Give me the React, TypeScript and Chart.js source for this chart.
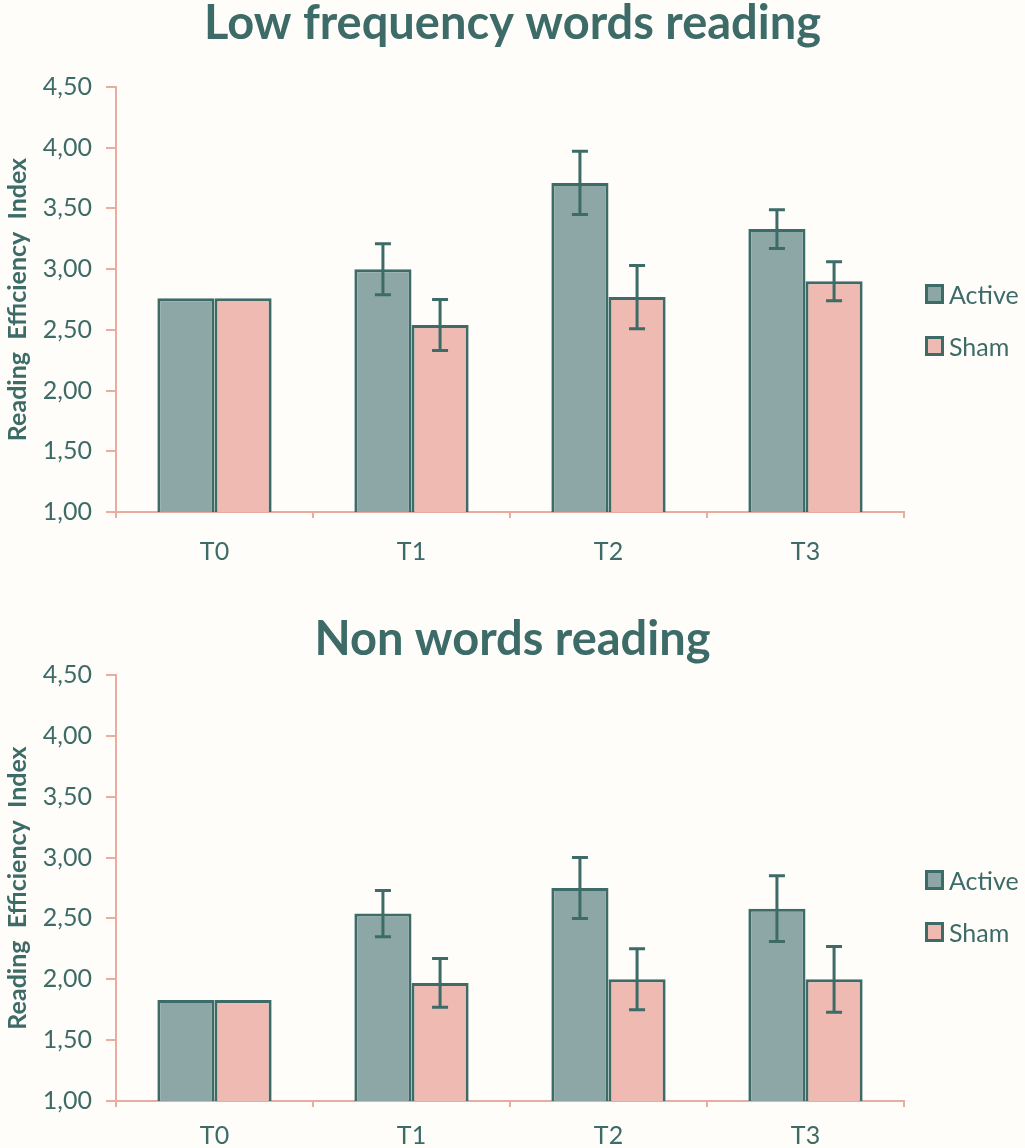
import { useEffect, useRef } from "react";
import { Chart, registerables, ChartConfiguration, Plugin } from "chart.js";

Chart.register(...registerables);

const categories = ["T0", "T1", "T2", "T3"];
const seriesNames = ["Active", "Sham"];
const yTicks = [1, 1.5, 2, 2.5, 3, 3.5, 4, 4.5];

// Low frequency words reading
const lowFreqActive = [2.76, 3.0, 3.71, 3.33];
const lowFreqActiveErr = [0, 0.21, 0.26, 0.16];
const lowFreqSham = [2.76, 2.54, 2.77, 2.9];
const lowFreqShamErr = [0, 0.21, 0.26, 0.16];

// Non words reading
const nonWordsActive = [1.83, 2.54, 2.75, 2.58];
const nonWordsActiveErr = [0, 0.19, 0.25, 0.27];
const nonWordsSham = [1.83, 1.97, 2.0, 2.0];
const nonWordsShamErr = [0, 0.2, 0.25, 0.27];

const TEAL = "#3d6b68";
const ACTIVE_FILL = "#8ca7a5";
const SHAM_FILL = "#eebab2";
const AXIS_PINK = "#e8aca2";
const BG = "#fffdf9";
const FONT = "Lato, 'Open Sans', sans-serif";

const errorBars: Plugin<"bar"> = {
  id: "errorBars",
  afterDatasetsDraw(chart) {
    const { ctx } = chart;
    const yScale = chart.scales.y;
    chart.data.datasets.forEach((ds: any, di) => {
      const meta = chart.getDatasetMeta(di);
      const errs: number[] = ds.errors || [];
      meta.data.forEach((bar: any, i) => {
        const err = errs[i];
        if (!err) return;
        const v = ds.data[i] as number;
        const top = yScale.getPixelForValue(v + err);
        const bot = yScale.getPixelForValue(v - err);
        const x = bar.x;
        ctx.save();
        ctx.strokeStyle = TEAL;
        ctx.lineWidth = 3;
        ctx.beginPath();
        ctx.moveTo(x, top);
        ctx.lineTo(x, bot);
        ctx.moveTo(x - 8, top);
        ctx.lineTo(x + 8, top);
        ctx.moveTo(x - 8, bot);
        ctx.lineTo(x + 8, bot);
        ctx.stroke();
        ctx.restore();
      });
    });
  },
};

type PanelProps = {
  title: string;
  active: number[];
  activeErr: number[];
  sham: number[];
  shamErr: number[];
  titlePadTop: number;
  titlePadBottom: number;
  labelPad: number;
  xHeight: number;
  legendTop: number;
};

function BarPanel(props: PanelProps) {
  const canvasRef = useRef<HTMLCanvasElement | null>(null);
  const chartRef = useRef<Chart<"bar", number[], string> | null>(null);

  useEffect(() => {
    const canvas = canvasRef.current;
    if (!canvas) return;
    const ctx = canvas.getContext("2d");
    if (!ctx) return;
    if (chartRef.current) chartRef.current.destroy();

    const config: ChartConfiguration<"bar", number[], string> = {
      type: "bar",
      data: {
        labels: categories,
        datasets: [
          {
            label: seriesNames[0],
            data: props.active,
            errors: props.activeErr,
            backgroundColor: ACTIVE_FILL,
            borderColor: TEAL,
            borderWidth: 3,
            categoryPercentage: 0.58,
            barPercentage: 1,
          } as any,
          {
            label: seriesNames[1],
            data: props.sham,
            errors: props.shamErr,
            backgroundColor: SHAM_FILL,
            borderColor: TEAL,
            borderWidth: 3,
            categoryPercentage: 0.58,
            barPercentage: 1,
          } as any,
        ],
      },
      options: {
        responsive: true,
        maintainAspectRatio: false,
        animation: false,
        layout: { padding: 0 },
        scales: {
          x: {
            afterFit: (scale: any) => {
              scale.height = props.xHeight;
            },
            grid: {
              offset: true,
              drawOnChartArea: false,
              drawTicks: true,
              tickLength: 6,
              color: AXIS_PINK,
              lineWidth: 2,
            },
            border: { color: AXIS_PINK, width: 2 },
            ticks: {
              color: TEAL,
              font: { family: FONT, size: 25 },
              padding: props.labelPad,
            },
          },
          y: {
            min: 1,
            max: 4.5,
            afterBuildTicks: (scale: any) => {
              scale.ticks = yTicks.map((v) => ({ value: v }));
            },
            afterFit: (scale: any) => {
              scale.width = 116;
            },
            grid: {
              drawOnChartArea: false,
              drawTicks: true,
              tickLength: 10,
              color: AXIS_PINK,
              lineWidth: 2,
            },
            border: { color: AXIS_PINK, width: 2 },
            ticks: {
              color: TEAL,
              font: { family: FONT, size: 25 },
              padding: 14,
              callback: (value: any) => Number(value).toFixed(2).replace(".", ","),
            },
            title: {
              display: true,
              text: "Reading  Efficiency  Index",
              color: TEAL,
              font: { family: FONT, size: 25, weight: "bold", lineHeight: 1.1 },
              padding: { top: 4, bottom: 0 },
            },
          },
          // empty right-hand box that keeps room for the legend
          yRight: {
            position: "right",
            display: true,
            afterFit: (scale: any) => {
              scale.width = 121;
            },
            grid: { display: false },
            border: { display: false },
            ticks: { display: false },
          },
        },
        plugins: {
          legend: { display: false },
          tooltip: { enabled: false },
          title: {
            display: true,
            text: props.title,
            color: TEAL,
            font: { family: FONT, size: 47, weight: "bold", lineHeight: 1 },
            padding: { top: props.titlePadTop, bottom: props.titlePadBottom },
          },
        },
      } as any,
      plugins: [errorBars],
    };

    chartRef.current = new Chart(ctx, config);
    return () => {
      if (chartRef.current) {
        chartRef.current.destroy();
        chartRef.current = null;
      }
    };
  }, []);

  const legendItems = [
    { name: seriesNames[0], fill: ACTIVE_FILL },
    { name: seriesNames[1], fill: SHAM_FILL },
  ];

  return (
    <div style={{ position: "relative", width: 1025, height: 574 }}>
      <canvas ref={canvasRef} />
      {legendItems.map((it, i) => (
        <div
          key={it.name}
          style={{
            position: "absolute",
            left: 925,
            top: props.legendTop + i * 52 - 16,
            height: 32,
            display: "flex",
            alignItems: "center",
            fontFamily: FONT,
            fontSize: 25,
            color: TEAL,
          }}
        >
          <span
            style={{
              display: "inline-block",
              width: 13,
              height: 14,
              border: `3px solid ${TEAL}`,
              background: it.fill,
              marginRight: 5,
            }}
          />
          {it.name}
        </div>
      ))}
    </div>
  );
}

export default function App() {
  return (
    <div
      style={{
        position: "absolute",
        left: 0,
        top: 0,
        width: 1025,
        height: 1148,
        background: BG,
      }}
    >
      <BarPanel
        title="Low frequency words reading"
        active={lowFreqActive}
        activeErr={lowFreqActiveErr}
        sham={lowFreqSham}
        shamErr={lowFreqShamErr}
        titlePadTop={0}
        titlePadBottom={40}
        labelPad={19}
        xHeight={62}
        legendTop={294}
      />
      <BarPanel
        title="Non words reading"
        active={nonWordsActive}
        activeErr={nonWordsActiveErr}
        sham={nonWordsSham}
        shamErr={nonWordsShamErr}
        titlePadTop={42}
        titlePadBottom={12}
        labelPad={14}
        xHeight={47}
        legendTop={306}
      />
    </div>
  );
}
